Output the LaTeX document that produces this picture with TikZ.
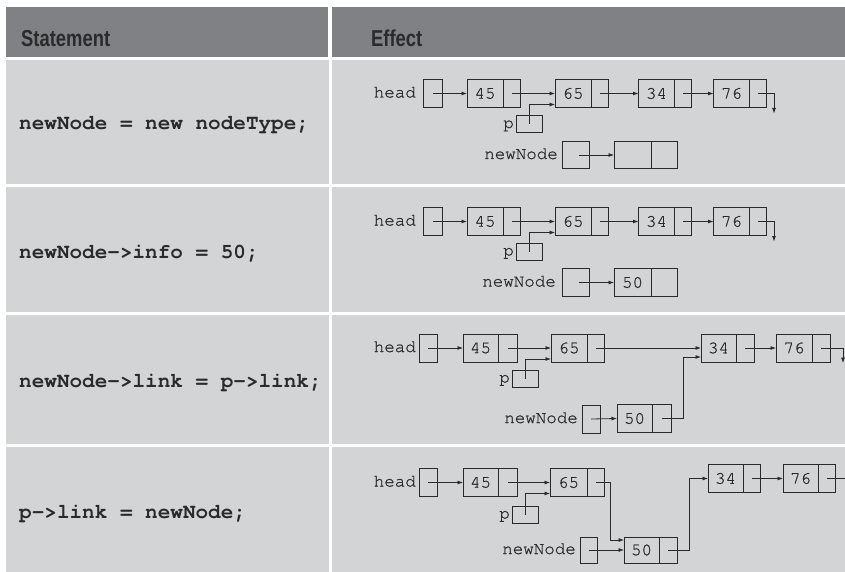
\documentclass[tikz,border=0pt]{standalone}
\usepackage{fontspec}
\usepackage{tikz}
\usetikzlibrary{
	positioning,
	arrows.meta
}
\setmonofont{TeX Gyre Cursor}
\newfontfamily\boxfont[FakeBold=0.8]{TeX Gyre Cursor}
\newfontfamily\headfont[FakeStretch=0.8]{Liberation Sans}
\definecolor{hdgray}{HTML}{808185}
\definecolor{cellgray}{HTML}{D3D4D6}
\definecolor{ink}{HTML}{2A2A2A}

\begin{document}
\begin{tikzpicture}[x=1pt,y=-1pt,
		infobox/.style={draw=ink,line width=0.9pt,inner sep=0pt,outer sep=0pt,
			minimum width=36pt,minimum height=28pt,
			font=\boxfont\fontsize{17.5}{17.5}\selectfont,text=ink},
		linkbox/.style={infobox,minimum width=17pt},
		ptrbox/.style={infobox,minimum width=18pt},
		pbox/.style={infobox,minimum width=26pt,minimum height=17pt},
		lbl/.style={inner sep=0pt,anchor=base east,text=ink,
			font=\boxfont\fontsize{17.5}{17.5}\selectfont},
		stmt/.style={inner sep=0pt,anchor=base west,text=ink,
			font=\ttfamily\bfseries\fontsize{21}{21}\selectfont},
		hdr/.style={inner sep=0pt,anchor=base west,text=ink,
			font=\headfont\bfseries\fontsize{23}{23}\selectfont},
		ptr/.style={draw=ink,line width=0.8pt,-{Latex[length=5.5pt,width=4pt]}}
	]
	\useasboundingbox (0,0) rectangle (845,572);

	% table cells
	\fill[hdgray] (6,7) rectangle (328,57);
	\fill[hdgray] (332,7) rectangle (845,57);
	\fill[cellgray] (6,60) rectangle (329,184);
	\fill[cellgray] (332,60) rectangle (845,184);
	\fill[cellgray] (6,187) rectangle (329,312);
	\fill[cellgray] (332,187) rectangle (845,312);
	\fill[cellgray] (6,315) rectangle (329,444);
	\fill[cellgray] (332,315) rectangle (845,444);
	\fill[cellgray] (6,447) rectangle (329,572);
	\fill[cellgray] (332,447) rectangle (845,572);

	\node[hdr] (colA) at (21,47) {Statement};
	\node[hdr] (colB) at (371,47) {Effect};

	\node[stmt] (stA) at (19,130) {newNode = new nodeType;};
	\node[stmt] (stB) at (19,258) {newNode->info = 50;};
	\node[stmt] (stC) at (19,387) {newNode->link = p->link;};
	\node[stmt] (stD) at (19,518) {p->link = newNode;};

	% row 1
	\node[ptrbox,minimum width=19pt] (headA) at (432.5,93.5) {};
	\node[lbl] at (416,97.5) {head};
	\node[infobox] (n45A) at (485,93.5) {45};
	\node[linkbox,right=0pt of n45A] (l45A) {};
	\node[infobox] (n65A) at (573,93.5) {65};
	\node[linkbox,right=0pt of n65A] (l65A) {};
	\node[infobox] (n34A) at (656.5,93.5) {34};
	\node[linkbox,right=0pt of n34A] (l34A) {};
	\node[infobox] (n76A) at (731.5,93.5) {76};
	\node[linkbox,right=0pt of n76A] (l76A) {};
	\node[pbox] (pA) at (529,124) {};
	\node[lbl] at (514,128) {p};
	\node[ptrbox,minimum width=27pt,minimum height=27pt] (newA) at (575.5,155) {};
	\node[lbl] at (558,159) {newNode};
	\node[infobox,minimum width=37pt,minimum height=27pt] (nxA) at (632.5,155) {};
	\node[linkbox,minimum width=26pt,minimum height=27pt,right=0pt of nxA] (lxA) {};

	\draw[ptr] (headA.center) -- (n45A.west);
	\draw[ptr] (l45A.center) -- (n65A.west);
	\draw[ptr] (l65A.center) -- (n34A.west);
	\draw[ptr] (l34A.center) -- (n76A.west);
	\draw[ptr] (l76A.center) -- ++(16,0) -- ++(0,20);
	\draw[ptr] (pA.center) |- ([yshift=3pt]n65A.south west);
	\draw[ptr] ([xshift=3pt]newA.center) -- (nxA.west);

	% row 2
	\node[ptrbox,minimum width=19pt] (headB) at (432.5,221.5) {};
	\node[lbl] at (416,225.5) {head};
	\node[infobox] (n45B) at (485,221.5) {45};
	\node[linkbox,right=0pt of n45B] (l45B) {};
	\node[infobox] (n65B) at (573,221.5) {65};
	\node[linkbox,right=0pt of n65B] (l65B) {};
	\node[infobox] (n34B) at (656.5,221.5) {34};
	\node[linkbox,right=0pt of n34B] (l34B) {};
	\node[infobox] (n76B) at (731.5,221.5) {76};
	\node[linkbox,right=0pt of n76B] (l76B) {};
	\node[pbox] (pB) at (529,251.5) {};
	\node[lbl] at (514,255.5) {p};
	\node[ptrbox,minimum width=27pt] (newB) at (575.5,282.5) {};
	\node[lbl] at (556,286.5) {newNode};
	\node[infobox,minimum width=37pt] (n50B) at (632.5,282.5) {50};
	\node[linkbox,minimum width=26pt,right=0pt of n50B] (l50B) {};

	\draw[ptr] (headB.center) -- (n45B.west);
	\draw[ptr] (l45B.center) -- (n65B.west);
	\draw[ptr] (l65B.center) -- (n34B.west);
	\draw[ptr] (l34B.center) -- (n76B.west);
	\draw[ptr] (l76B.center) -- ++(16,0) -- ++(0,20);
	\draw[ptr] (pB.center) |- ([yshift=3pt]n65B.south west);
	\draw[ptr] ([xshift=3pt]newB.center) -- (n50B.west);

	% row 3
	\node[ptrbox] (headC) at (428,348) {};
	\node[lbl] at (416,352) {head};
	\node[infobox,minimum width=35pt] (n45C) at (480.5,348) {45};
	\node[linkbox,minimum width=19pt,right=0pt of n45C] (l45C) {};
	\node[infobox] (n65C) at (569,348) {65};
	\node[linkbox,right=0pt of n65C] (l65C) {};
	\node[infobox,minimum width=35pt] (n34C) at (718.5,348) {34};
	\node[linkbox,minimum width=18pt,right=0pt of n34C] (l34C) {};
	\node[infobox] (n76C) at (794,348) {76};
	\node[linkbox,minimum width=18pt,right=0pt of n76C] (l76C) {};
	\node[pbox] (pC) at (525,378.5) {};
	\node[lbl] at (510,382.5) {p};
	\node[ptrbox] (newC) at (591,419) {};
	\node[lbl] at (578,423) {newNode};
	\node[infobox,minimum width=35pt] (n50C) at (634.5,418.5) {50};
	\node[linkbox,minimum width=19pt,right=0pt of n50C] (l50C) {};

	\draw[ptr] (headC.center) -- (n45C.west);
	\draw[ptr] (l45C.center) -- (n65C.west);
	\draw[ptr] (l65C.center) -- (n34C.west);
	\draw[ptr] (l34C.center) -- (n76C.west);
	\draw[ptr] (l76C.center) -- ++(22,0) -- ++(0,15);
	\draw[ptr] (pC.center) |- ([yshift=3pt]n65C.south west);
	\draw[ptr] (newC.center) -- (n50C.west);
	\draw[ptr] (l50C.center) -- ++(21.5,0) |- ([yshift=5pt]n34C.south west);

	% row 4
	\node[ptrbox] (headD) at (428,482.5) {};
	\node[lbl] at (416,486.5) {head};
	\node[infobox,minimum width=35pt] (n45D) at (480.5,482.5) {45};
	\node[linkbox,minimum width=19pt,right=0pt of n45D] (l45D) {};
	\node[infobox,minimum width=37pt] (n65D) at (568.5,482.5) {65};
	\node[linkbox,right=0pt of n65D] (l65D) {};
	\node[pbox] (pD) at (525,514.5) {};
	\node[lbl] at (510,518.5) {p};
	\node[ptrbox,minimum width=17pt,minimum height=26pt] (newD) at (588.5,550) {};
	\node[lbl] at (576,554) {newNode};
	\node[infobox,minimum width=35pt,minimum height=26pt] (n50D) at (641.5,550) {50};
	\node[linkbox,minimum width=18pt,minimum height=26pt,right=0pt of n50D] (l50D) {};
	\node[infobox,minimum width=35pt] (n34D) at (725.5,478.5) {34};
	\node[linkbox,right=0pt of n34D] (l34D) {};
	\node[infobox,minimum width=35pt] (n76D) at (800.5,478.5) {76};
	\node[linkbox,right=0pt of n76D] (l76D) {};

	\draw[ptr] (headD.center) -- (n45D.west);
	\draw[ptr] (l45D.center) -- (n65D.west);
	\draw[ptr] (pD.center) |- ([yshift=3pt]n65D.south west);
	\draw[ptr] (l65D.center) -- ++(14.5,0) |- ([yshift=-3pt]n50D.north west);
	\draw[ptr] (newD.center) -- (n50D.west);
	\draw[ptr] (l50D.center) -- ++(21,0) |- (n34D.west);
	\draw[ptr] (l34D.center) -- (n76D.west);
	\draw[draw=ink,line width=0.8pt] (l76D.center) -- ++(22,0);
\end{tikzpicture}
\end{document}
